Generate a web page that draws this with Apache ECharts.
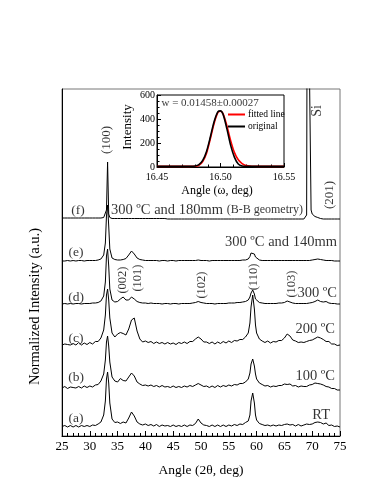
<!DOCTYPE html>
<html><head><meta charset="utf-8">
<script src="https://cdn.jsdelivr.net/npm/echarts@6/dist/echarts.min.js"></script>
<style>html,body{margin:0;padding:0;background:#fff}#c{width:374px;height:484px}</style>
</head><body><div id="c"></div>
<script>
// ---- main panel data (2θ in deg; intensity above each trace's baseline, arbitrary units) ----
const angles = [
  25,25.5,26,26.5,27,27.5,28,28.5,29,29.5,30,30.5,31,31.5,32,32.5,
  32.8,33.0,33.2,33.4,33.6,
  34,34.5,35,35.5,36,36.5,37,37.5,38,38.5,39,39.5,40,40.5,41,41.5,42,42.5,43,43.5,
  44,44.5,45,45.5,46,46.5,47,47.5,48,48.5,49,49.5,50,50.5,51,51.5,52,52.5,53,53.5,
  54,54.5,55,55.5,56,56.5,57,57.5,58,58.5,
  58.8,59.0,59.3,59.6,59.8,
  60,60.5,61,61.5,62,62.5,63,63.5,64,64.5,65,65.5,66,66.5,67,67.5,68,68.5,
  68.8,69.0,69.1,69.2,69.3,69.5,69.8,
  70,70.5,71,71.5,72,72.5,73,73.5,74,74.5,75
];
const traceA = [
  0.5,1.5,0,1.5,0,1.5,0,1.5,0.5,1.5,0.5,2,1.5,3,5,12,
  26,48,55,44,24,
  8,4.5,5,3.5,5,4,9,15,11,5, 3,2,3,1.5,2.5,1,2.5,0.5,2,1,
  1.5,0.5,2,0.5,1.5,0.5,2,0.5,2,1.5, 3.5,8,4,2,1.5,0.5,2,0.5,2,0.5,
  2,0.5,2,1,2.5,1.5,3,2.5,4.5,6,
  12,26,34,24,12,
  7,3.5,2.5,1.5,2,1,2,1,2,1.5,2.5,3,2,2.5,1,2.5,1,2,
  2,3,1.5,3,2,2.5,3.5,
  3,4.5,5,4.5,3,4,1.5,2,0.5,1,0
];
const traceB = [
  0,1.5,-0.5,1,0.5,0,1.5,0,2,0.5,2,1,3,3.5,7,14,
  28,46,52,42,26,
  11,7,6,9.5,7.5,7,11,15,12,6, 4,2.5,3,2,3,1.5,2.5,1,2.5,1,
  1.5,0.5,2,0.5,1.5,0.5,2,1,2.5,1.5, 3,4.5,3,1.5,2,0.5,2,0.5,2.5,1,
  2.5,1.5,3,2,3.5,3,4.5,4.5,6,9,
  15,24,29,22,14,
  9,5,3.5,2,2.5,1,2,1.5,2.5,2.5,4,3.5,4,2,2.5,1,2,1.5,
  3,1.5,3,2.5,3.5,3,4,
  3.5,5,4.5,4,3,1.5,1,-0.5,-0.5,-2,-2
];
const traceC = [
  0,1,0.5,0,1.5,0,2.5,0,2,0.5,2.5,1,3.5,3.5,7,15,
  30,50,56,45,27,
  12,8,11,12.5,11.5,10,16,25,27,14, 6,3,4,2.5,3.5,1.5,3,1.5,2.5,1,
  2.5,1,2,0.5,2.5,1.5,3,1.5,3.5,3.5, 6,8,6,3,3,1.5,3,1,3,1.5,
  3.5,2,4,2.5,4.5,4,5.5,5.5,8,12,
  22,38,50,36,20,
  12,6,4,2.5,4,2,3.5,3,4.5,4.5,7,11,9,5,4,2.5,3,2.5,
  4,3.5,5,3.5,5.5,4.5,6.5,
  5,6.5,8,7,5.5,3.5,3.5,1,1,-0.5,0
];
const traceD = [
  0,0.5,0,0.5,0,0.5,0.5,0,0.5,0.5,0.5,1,1,1.5,3,8,
  22,48,55,38,15,
  4,2,2.5,5,7,4,4,7,5,2.5, 1.5,1,1,0.5,1,0.5,0.5,0.5,0,0.5,
  0.5,0,0.5,0.5,0,0.5,0.5,0.5,0.5,1, 1.5,2.5,1.5,1,0.5,0.5,0.5,0,0.5,0.5,
  0.5,0.5,1,1,1,1.5,1.5,2,2.5,4,
  7,11,14,10,5,
  3,1.5,1,0.5,0.5,0.5,0.5,0.5,1,1,1.5,3,2,1,0.5,0.5,0.5,0.5,
  0.5,0.5,0.5,1,1,1,1.5,
  1.5,2.5,4,2.5,2,2.5,1,0.5,0.5,0,0
];
const traceE = [
  0,0,0.5,0,0.5,0,0.5,0.5,0,0.5,0.5,0.5,0.5,1,2,6,
  18,45,56,35,12,
  3,1.5,1,1,1.5,2.5,6,10,7,3, 1.5,1,0.5,0.5,0.5,0.5,0.5,0,0.5,0.5,
  0,0.5,0.5,0,0.5,0.5,0.5,0.5,0.5,0.5, 0.5,1,0.5,0.5,0.5,0,0.5,0.5,0.5,0.5,
  0.5,0.5,0.5,0.5,0.5,0.5,0.5,1,1,2,
  4.5,8,10,7,4,
  2.5,1,0.5,0.5,0.5,0.5,0.5,0.5,0.5,0.5,0.5,0.5,0.5,0.5,0.5,0.5,0.5,0.5,
  0.5,0.5,0.5,0.5,0.5,0.5,1,
  1,1.5,2,1.5,1,0.5,0.5,0.5,0,0,0
];
const traceF = [
  0,0,0,0,0,0,0,0,0,0,0,0,0,0,0,0.5,
  1.5,8,56,4,0.5,
  -0.5,-0.5,-0.5,-0.5,-0.5,-0.5,-0.5,-0.5,-0.5,-0.5, -0.5,-0.5,-0.5,-0.5,-0.5,-0.5,-0.5,-0.5,-0.5,-0.5,
  -1,-1,-1,-1,-1,-1,-1,-1,-1,-1, -1,-1,-1,-1,-1,-1,-1,-1,-1,-1,
  -1,-1,-1,-1,-1,-1,-1,-1,-1,-1,
  -1,-1,-1,-1,-1,
  -1,-1,-1,-1,-1,-1,-1,-1,-1,-1,-1,-1,-1,-1,-1,-1,-1,-1,
  -0.5,3,250,300,260,150,8,
  4,1.5,0.5,-0.5,-1,-1,-1,-1,-1,-1,-1
];
const traceOffsets = [9, 48, 91, 132, 175, 218];
const traceNames = ['(a)', '(b)', '(c)', '(d)', '(e)', '(f)'];
const xTickValues = [25, 30, 35, 40, 45, 50, 55, 60, 65, 70, 75];

// text labels
const sampleLabels = ['(f)', '(e)', '(d)', '(c)', '(b)', '(a)'];
const conditionLabels = ['300 ºC and 180mm {s|(B-B geometry)}', '300 ºC and 140mm', '300 ºC', '200 ºC', '100 ºC', 'RT'];
const peakLabels = ['(100)', '(002)', '(101)', '(102)', '(110)', '(103)', '(201)', 'Si'];

// ---- inset data (ω rocking curve) ----
const insetAngle = [16.45,16.46,16.47,16.475,16.48,16.483,16.486,16.489,16.492,16.495,16.498,16.5,16.502,16.505,16.508,16.511,16.514,16.517,16.52,16.525,16.53,16.54,16.55];
const insetOriginal = [5,5,5,6,9,20,55,130,250,380,462,468,440,320,180,80,25,8,5,5,5,5,5];
const insetFitted = [5,5,5,5,6,14,45,115,235,365,455,465,445,345,220,120,60,28,12,6,5,5,5];
const insetNote = 'w = 0.01458±0.00027';

// ---- layout (label anchor positions in data coordinates) ----
const sampleLabelPos = [[27.88,226],[27.52,184],[27.52,139],[27.52,98],[27.52,59],[27.52,18]];
const conditionLabelPos = [[33.81,226,'left'],[74.46,194,'right'],[74.46,143,'right'],[74.1,107,'right'],[74.1,60,'right'],[73.2,21,'right']];
const peakLabelPos = [[33.1,296,13],[35.97,156,12.5],[38.67,158,12.5],[50.18,151,12.5],[59.53,159,12.5],[66.37,152,12.5],[73.2,241,13],[70.86,325,14]];

const FONT = 'Liberation Serif';
const chart = echarts.init(document.getElementById('c'), null, {renderer: 'canvas'});

const traceList = [traceA, traceB, traceC, traceD, traceE, traceF];
const lineSeries = traceList.map((vals, k) => ({
  type: 'line', name: traceNames[k], xAxisIndex: 0, yAxisIndex: 0,
  data: angles.map((a, i) => [a, vals[i] + traceOffsets[k]]),
  symbol: 'none', showSymbol: false, silent: true, clip: true,
  lineStyle: {color: '#000', width: 1}, z: 2
}));

function labelItem(text, x, y, extra) {
  return {value: [x, y], label: Object.assign({show: true, position: 'inside', formatter: text,
    color: '#000', fontFamily: FONT}, extra)};
}
const textData = [];
sampleLabels.forEach((t, i) => textData.push(labelItem(t, sampleLabelPos[i][0], sampleLabelPos[i][1], {fontSize: 13.5})));
conditionLabels.forEach((t, i) => textData.push(labelItem(t, conditionLabelPos[i][0], conditionLabelPos[i][1],
  {fontSize: 14.5, align: conditionLabelPos[i][2], rich: {s: {fontSize: 12, fontFamily: FONT, color: '#000'}}})));
peakLabels.forEach((t, i) => textData.push(labelItem(t, peakLabelPos[i][0], peakLabelPos[i][1], {fontSize: peakLabelPos[i][2], rotate: 90})));

const option = {
  animation: false,
  backgroundColor: '#fff',
  textStyle: {fontFamily: FONT},
  grid: [
    {left: 62, top: 89, right: 34, bottom: 48, show: true, borderColor: '#777', borderWidth: 1, backgroundColor: 'transparent'},
    {left: 157, top: 95, width: 127, height: 72, show: true, borderColor: '#000', borderWidth: 1, backgroundColor: 'transparent'}
  ],
  legend: {
    data: ['fitted line', 'original'], orient: 'vertical', left: 228, top: 109,
    icon: 'rect', itemWidth: 17, itemHeight: 2, itemGap: 1, padding: 0,
    textStyle: {fontFamily: FONT, fontSize: 9.5, color: '#000', lineHeight: 11, padding: [0,0,0,-2]},
    selectedMode: false
  },
  xAxis: [
    {type: 'value', gridIndex: 0, min: xTickValues[0], max: xTickValues[xTickValues.length - 1], interval: 5,
      name: 'Angle (2θ, deg)', nameLocation: 'middle', nameGap: 27,
      nameTextStyle: {fontFamily: FONT, fontSize: 13.5, color: '#000'},
      axisLine: {show: true, lineStyle: {color: '#000', width: 1}},
      axisTick: {show: true, inside: true, length: 5, lineStyle: {color: '#000'}},
      minorTick: {show: true, splitNumber: 5, length: 3, lineStyle: {color: '#000'}},
      axisLabel: {fontFamily: FONT, fontSize: 13, color: '#000', margin: 4},
      splitLine: {show: false}, minorSplitLine: {show: false}},
    {type: 'value', gridIndex: 1, min: 16.45, max: 16.55, interval: 0.05,
      name: 'Angle (ω, deg)', nameLocation: 'middle', nameGap: 18,
      nameTextStyle: {fontFamily: FONT, fontSize: 12, color: '#000', padding: [0, 7, 0, 0]},
      axisLine: {show: true, lineStyle: {color: '#000', width: 1}},
      axisTick: {show: true, inside: true, length: 4, lineStyle: {color: '#000'}},
      minorTick: {show: true, splitNumber: 5, length: 2.5, lineStyle: {color: '#000'}},
      axisLabel: {fontFamily: FONT, fontSize: 10, color: '#000', margin: 5, formatter: v => v.toFixed(2)},
      splitLine: {show: false}, minorSplitLine: {show: false}}
  ],
  yAxis: [
    {type: 'value', gridIndex: 0, min: 0, max: 347,
      name: 'Normalized Intensity (a.u.)', nameLocation: 'middle', nameGap: 19,
      nameTextStyle: {fontFamily: FONT, fontSize: 14.5, color: '#000', padding: [0, 88, 0, 0]},
      axisLine: {show: true, lineStyle: {color: '#000', width: 1}},
      axisTick: {show: false}, axisLabel: {show: false}, splitLine: {show: false}},
    {type: 'value', gridIndex: 1, min: 0, max: 600, interval: 200,
      name: 'Intensity', nameLocation: 'middle', nameGap: 23,
      nameTextStyle: {fontFamily: FONT, fontSize: 13, color: '#000', padding: [0, 0, 0, 8]},
      axisLine: {show: true, lineStyle: {color: '#000', width: 1}},
      axisTick: {show: true, inside: true, length: 4, lineStyle: {color: '#000'}},
      minorTick: {show: true, splitNumber: 4, length: 2.5, lineStyle: {color: '#000'}},
      axisLabel: {fontFamily: FONT, fontSize: 10, color: '#000', margin: 2},
      splitLine: {show: false}, minorSplitLine: {show: false}}
  ],
  series: lineSeries.concat([
    {type: 'scatter', xAxisIndex: 0, yAxisIndex: 0, symbolSize: 1, silent: true, z: 5,
      itemStyle: {color: 'rgba(0,0,0,0)'}, data: textData},
    {type: 'line', name: 'fitted line', xAxisIndex: 1, yAxisIndex: 1, smooth: 0.3,
      data: insetAngle.map((a, i) => [a, insetFitted[i]]),
      symbol: 'none', silent: true, lineStyle: {color: '#ff0000', width: 1.6}, itemStyle: {color: '#ff0000'}, z: 6},
    {type: 'line', name: 'original', xAxisIndex: 1, yAxisIndex: 1, smooth: 0.3,
      data: insetAngle.map((a, i) => [a, insetOriginal[i]]),
      symbol: 'none', silent: true, lineStyle: {color: '#000', width: 1.6}, itemStyle: {color: '#000'}, z: 7},
    {type: 'scatter', xAxisIndex: 1, yAxisIndex: 1, symbolSize: 1, silent: true, z: 8,
      itemStyle: {color: 'rgba(0,0,0,0)'},
      data: [labelItem(insetNote, 16.4535, 533, {fontSize: 11, align: 'left'})]}
  ])
};
chart.setOption(option);
</script></body></html>
